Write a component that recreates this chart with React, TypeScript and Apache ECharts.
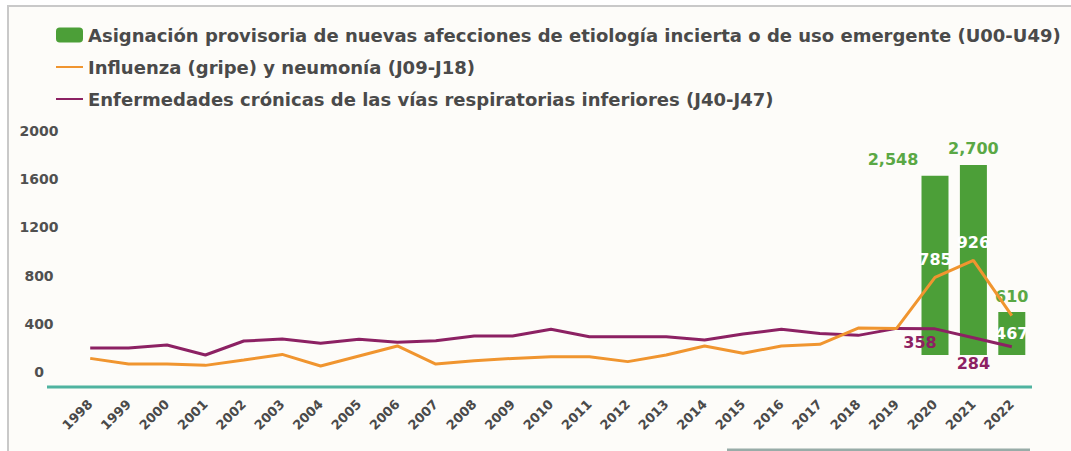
import React, { useEffect, useRef } from "react";
import * as echarts from "echarts";

const years = [
  "1998", "1999", "2000", "2001", "2002", "2003", "2004", "2005", "2006",
  "2007", "2008", "2009", "2010", "2011", "2012", "2013", "2014", "2015",
  "2016", "2017", "2018", "2019", "2020", "2021", "2022",
];
const yTicks = [0, 400, 800, 1200, 1600, 2000];

const seriesNames = [
  "Asignación provisoria de nuevas afecciones de etiología incierta o de uso emergente (U00-U49)",
  "Influenza (gripe) y neumonía (J09-J18)",
  "Enfermedades crónicas de las vías respiratorias inferiores (J40-J47)",
];

const covid: (number | null)[] = [
  null, null, null, null, null, null, null, null, null, null, null, null,
  null, null, null, null, null, null, null, null, null, null, 2548, 2700, 610,
];
const influenza = [
  113, 66, 66, 55, 100, 146, 50, 133, 216, 66, 94, 113, 127, 127, 86, 141,
  216, 155, 216, 230, 365, 362, 785, 926, 467,
];
const chronic = [
  199, 199, 224, 141, 257, 274, 238, 271, 246, 260, 299, 299, 354, 293, 293,
  293, 266, 315, 354, 320, 304, 362, 358, 284, 210,
];

const GREEN = "#4c9f38";
const GREEN_TEXT = "#5aa845";
const ORANGE = "#f0952f";
const PURPLE = "#8c2163";
const TEXT = "#4a4a4a";
const FONT = "DejaVu Sans";

export default function App() {
  const ref = useRef<HTMLDivElement>(null);

  useEffect(() => {
    if (!ref.current) return;
    const chart = echarts.init(ref.current, null, { renderer: "svg" });

    const barLabelOffsets: Record<string, number[]> = { "2020": [-42, 0] };
    const covidData = covid.map((v, i) =>
      v == null
        ? null
        : {
            value: v,
            label: {
              show: true,
              position: "top",
              distance: 8,
              offset: barLabelOffsets[years[i]] || [0, 0],
            },
          }
    );

    const inflLabels: Record<string, any> = {
      "2020": { position: "top", distance: 10 },
      "2021": { position: "top", distance: 10 },
      "2022": { position: "bottom", distance: 10 },
    };
    const inflData = influenza.map((v, i) => {
      const l = inflLabels[years[i]];
      return l
        ? { value: v, label: { show: true, color: "#ffffff", ...l } }
        : v;
    });

    const chrLabels: Record<string, any> = {
      "2020": { position: "bottom", distance: 6, offset: [-15, 0] },
      "2021": { position: "bottom", distance: 18 },
    };
    const chrData = chronic.map((v, i) => {
      const l = chrLabels[years[i]];
      return l ? { value: v, label: { show: true, color: PURPLE, ...l } } : v;
    });

    const labelFont = {
      fontFamily: FONT,
      fontWeight: "bold" as const,
      fontSize: 16,
    };

    chart.setOption({
      animation: false,
      backgroundColor: "#ffffff",
      textStyle: { fontFamily: FONT },
      graphic: [
        {
          type: "rect",
          z: -10,
          silent: true,
          shape: { x: 8, y: 6, width: 1100, height: 470 },
          style: { fill: "#fdfcf9", stroke: "#c9c9c9", lineWidth: 2 },
        },
        {
          type: "line",
          z: 1,
          silent: true,
          shape: { x1: 47, y1: 387, x2: 1032, y2: 387 },
          style: { stroke: "#4fb3a0", lineWidth: 3 },
        },
        {
          type: "line",
          z: 1,
          silent: true,
          shape: { x1: 727, y1: 450, x2: 1030, y2: 450 },
          style: { stroke: "#98aca8", lineWidth: 3 },
        },
      ],
      legend: {
        left: 55,
        top: 26,
        padding: 0,
        orient: "vertical",
        itemWidth: 27,
        itemHeight: 15,
        itemGap: 14,
        textStyle: {
          fontFamily: FONT,
          fontWeight: "bold",
          fontSize: 18,
          color: TEXT,
        },
        data: [
          { name: seriesNames[0] },
          { name: seriesNames[1], itemStyle: { opacity: 0 } },
          { name: seriesNames[2], itemStyle: { opacity: 0 } },
        ],
      },
      grid: { left: 71, right: 40, top: 131, bottom: 79 },
      xAxis: {
        type: "category",
        data: years,
        boundaryGap: true,
        axisLine: { show: false },
        axisTick: { show: false },
        axisLabel: {
          rotate: 45,
          margin: 30,
          interval: 0,
          fontFamily: FONT,
          fontWeight: "bold",
          fontSize: 13,
          color: TEXT,
        },
      },
      yAxis: [
        {
          type: "value",
          min: yTicks[0],
          max: yTicks[yTicks.length - 1],
          interval: yTicks[1] - yTicks[0],
          splitLine: { show: false },
          axisLine: { show: false },
          axisTick: { show: false },
          axisLabel: {
            align: "center",
            margin: 32,
            formatter: (v: number) => String(v),
            fontFamily: FONT,
            fontWeight: "bold",
            fontSize: 14,
            color: "#505050",
          },
        },
        {
          type: "value",
          min: -242,
          max: 3183,
          show: false,
          splitLine: { show: false },
        },
      ],
      series: [
        {
          name: seriesNames[0],
          type: "bar",
          yAxisIndex: 1,
          barWidth: 27,
          itemStyle: { color: GREEN },
          label: {
            ...labelFont,
            fontSize: 16,
            color: GREEN_TEXT,
            formatter: (p: any) => Number(p.value).toLocaleString("en-US"),
          },
          data: covidData,
          z: 2,
        },
        {
          name: seriesNames[1],
          type: "line",
          symbol: "circle",
          symbolSize: 0,
          showSymbol: true,
          itemStyle: { color: ORANGE },
          lineStyle: { color: ORANGE, width: 3 },
          label: { ...labelFont },
          data: inflData,
          z: 4,
        },
        {
          name: seriesNames[2],
          type: "line",
          symbol: "circle",
          symbolSize: 0,
          showSymbol: true,
          itemStyle: { color: PURPLE },
          lineStyle: { color: PURPLE, width: 3 },
          label: { ...labelFont },
          data: chrData,
          z: 3,
        },
      ],
    });

    return () => chart.dispose();
  }, []);

  return (
    <div
      ref={ref}
      style={{
        position: "absolute",
        left: 0,
        top: 0,
        width: 1071,
        height: 451,
      }}
    />
  );
}
